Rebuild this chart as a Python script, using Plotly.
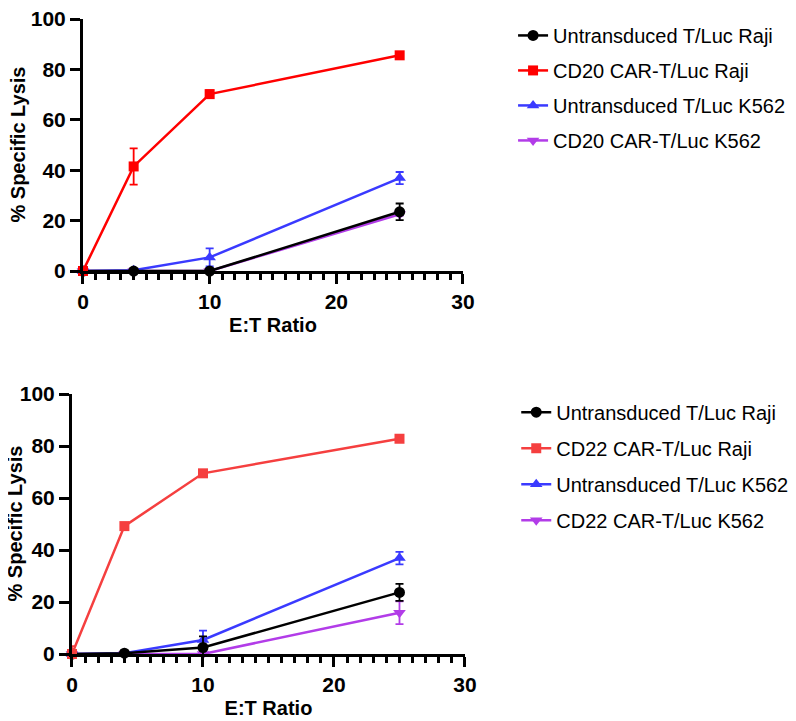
import plotly.graph_objects as go

ratios = [0, 4, 10, 25]

# Top panel (CD20)
top_names = ["Untransduced T/Luc Raji", "CD20 CAR-T/Luc Raji",
             "Untransduced T/Luc K562", "CD20 CAR-T/Luc K562"]
top_ut_raji = [0, 0, 0, 23.5]
top_ut_raji_err = [0, 0.5, 0.5, 3.3]
top_car_raji = [0, 41.5, 70.2, 85.6]
top_car_raji_err = [0, 7.2, 1.5, 0.6]
top_ut_k562 = [0, 0.3, 5.4, 36.9]
top_ut_k562_err = [0, 0.5, 3.6, 2.4]
top_car_k562 = [0, 0, 0, 22.5]
top_car_k562_err = [0, 0, 0, 0.5]

# Bottom panel (CD22)
bot_names = ["Untransduced T/Luc Raji", "CD22 CAR-T/Luc Raji",
             "Untransduced T/Luc K562", "CD22 CAR-T/Luc K562"]
bot_ut_raji = [0, 0.3, 2.5, 23.7]
bot_ut_raji_err = [0, 1.0, 4.3, 3.3]
bot_car_raji = [0, 49.2, 69.5, 82.8]
bot_car_raji_err = [3.0, 0.5, 0.5, 0.5]
bot_ut_k562 = [0, 0.3, 5.4, 36.9]
bot_ut_k562_err = [0, 0.5, 3.6, 2.4]
bot_car_k562 = [0, 0, 0, 15.9]
bot_car_k562_err = [0, 0, 0, 4.4]

x_title = "E:T Ratio"
y_title = "% Specific Lysis"

FONT = "Liberation Sans, Arial, sans-serif"
BLACK = "#000000"
RED_TOP = "#FF0000"
RED_BOT = "#F53F3F"
BLUE = "#3A3AFF"
PURPLE = "#B23CE8"

fig = go.Figure()


def add(x, y, err, name, color, symbol, rank, xa, ya, leg, size=11):
    fig.add_trace(go.Scatter(
        x=x, y=y, name=name, mode="lines+markers",
        line=dict(color=color, width=2.5),
        marker=dict(color=color, symbol=symbol, size=size),
        error_y=dict(type="data", array=err, visible=True, color=color,
                     thickness=1.8, width=4),
        xaxis=xa, yaxis=ya, legend=leg, legendrank=rank, cliponaxis=False,
        legendgroup=leg + str(rank),
    ))


# draw order: purple, blue, black, red (red on top)
add(ratios, top_car_k562, top_car_k562_err, top_names[3], PURPLE, "triangle-down", 4, "x", "y", "legend")
add(ratios, top_ut_k562, top_ut_k562_err, top_names[2], BLUE, "triangle-up", 3, "x", "y", "legend")
add(ratios, top_ut_raji, top_ut_raji_err, top_names[0], BLACK, "circle", 1, "x", "y", "legend")
add(ratios, top_car_raji, top_car_raji_err, top_names[1], RED_TOP, "square", 2, "x", "y", "legend", size=10)

add(ratios, bot_car_k562, bot_car_k562_err, bot_names[3], PURPLE, "triangle-down", 4, "x2", "y2", "legend2")
add(ratios, bot_ut_k562, bot_ut_k562_err, bot_names[2], BLUE, "triangle-up", 3, "x2", "y2", "legend2")
add(ratios, bot_ut_raji, bot_ut_raji_err, bot_names[0], BLACK, "circle", 1, "x2", "y2", "legend2")
add(ratios, bot_car_raji, bot_car_raji_err, bot_names[1], RED_BOT, "square", 2, "x2", "y2", "legend2", size=10)

tickfont = dict(family=FONT, size=21, color="black", weight="bold")
titlefont = dict(family=FONT, size=20, color="black", weight="bold")


def xaxis_cfg(domain, anchor):
    return dict(domain=domain, anchor=anchor, range=[0, 30], dtick=10, tick0=0,
                showline=True, linecolor="black", linewidth=3, automargin=False,
                ticks="outside", ticklen=10, tickwidth=3, tickcolor="black",
                minor=dict(dtick=1, tick0=0, ticks="outside", ticklen=6,
                           tickwidth=2.5, tickcolor="black", showgrid=False),
                showgrid=False, zeroline=False, tickfont=tickfont,
                ticklabeloverflow="allow",
                title=dict(text=x_title, font=titlefont, standoff=6))


def yaxis_cfg(domain, anchor):
    return dict(domain=domain, anchor=anchor, range=[0, 100], dtick=20, tick0=0,
                showline=True, linecolor="black", linewidth=3, automargin=False,
                ticks="outside", ticklen=10, tickwidth=3, tickcolor="black",
                showgrid=False, zeroline=False, tickfont=tickfont,
                ticklabeloverflow="allow")


legfont = dict(family=FONT, size=20, color="black")

top_ydom = [0.6352, 0.9847]
bot_ydom = [0.104, 0.4646]

fig.update_layout(
    width=796, height=721,
    margin=dict(l=0, r=0, t=0, b=0, autoexpand=False),
    paper_bgcolor="white", plot_bgcolor="white",
    showlegend=True,
    xaxis=xaxis_cfg([0.0942, 0.5716], "y"),
    yaxis=yaxis_cfg(top_ydom, "x"),
    xaxis2=xaxis_cfg([0.0804, 0.5741], "y2"),
    yaxis2=yaxis_cfg(bot_ydom, "x2"),
    legend=dict(x=0.6345, y=0.989, xanchor="left", yanchor="top",
                font=legfont, bgcolor="rgba(0,0,0,0)",
                traceorder="grouped", tracegroupgap=6),
    legend2=dict(x=0.6385, y=0.4665, xanchor="left", yanchor="top",
                 font=legfont, bgcolor="rgba(0,0,0,0)",
                 traceorder="grouped", tracegroupgap=7),
    annotations=[
        dict(text=y_title, textangle=-90, font=titlefont, showarrow=False,
             xref="paper", yref="paper", x=10.5 / 796, y=sum(top_ydom) / 2,
             xanchor="center", yanchor="middle"),
        dict(text=y_title, textangle=-90, font=titlefont, showarrow=False,
             xref="paper", yref="paper", x=7.5 / 796, y=sum(bot_ydom) / 2,
             xanchor="center", yanchor="middle"),
    ],
)

fig.write_html("out.html")
